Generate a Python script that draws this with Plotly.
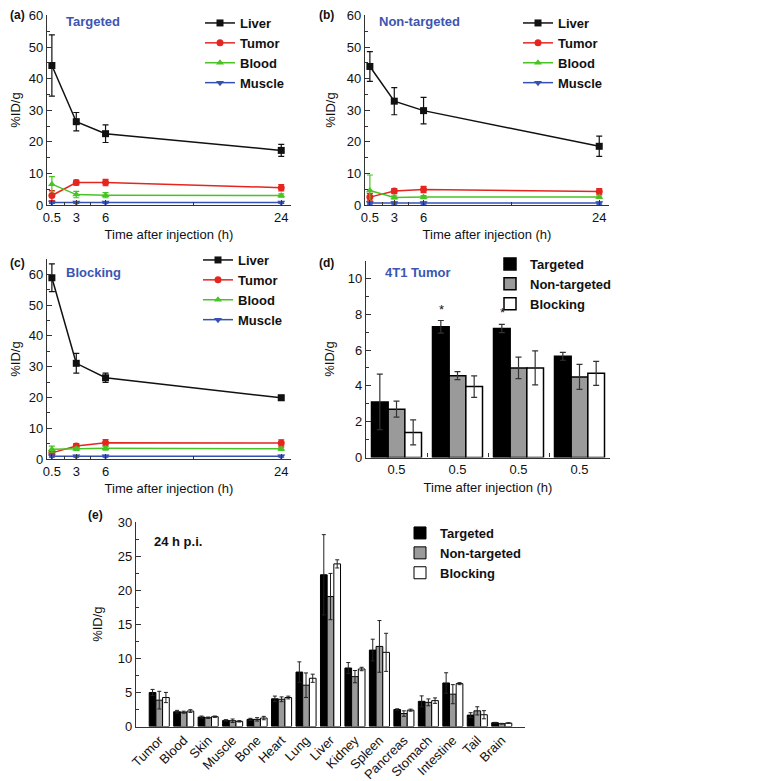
import plotly.graph_objects as go

# ---- data -------------------------------------------------------------
TIME_H = [0.5, 3, 6, 24]
LINE_ORGANS = ["Liver", "Tumor", "Blood", "Muscle"]

# rows follow LINE_ORGANS
targeted_mean = [[44.2, 26.4, 22.6, 17.3],
                 [3.0, 7.1, 7.1, 5.5],
                 [6.6, 3.3, 3.1, 3.0],
                 [0.8, 0.8, 0.8, 0.8]]
targeted_err = [[9.7, 2.9, 2.8, 1.9],
                [1.6, 0.8, 1.0, 1.0],
                [2.4, 1.0, 0.8, 0.5],
                [0.3, 0.3, 0.3, 0.3]]

nontargeted_mean = [[43.9, 32.9, 29.9, 18.6],
                    [2.5, 4.4, 4.9, 4.3],
                    [4.6, 2.4, 2.5, 2.5],
                    [0.6, 0.6, 0.6, 0.6]]
nontargeted_err = [[4.7, 4.3, 4.2, 3.2],
                   [1.2, 0.8, 1.0, 0.9],
                   [4.9, 0.5, 0.5, 0.4],
                   [0.3, 0.3, 0.3, 0.3]]

blocking_mean = [[58.9, 31.1, 26.4, 19.9],
                 [2.0, 4.2, 5.3, 5.2],
                 [3.2, 3.3, 3.5, 3.3],
                 [0.9, 0.9, 0.9, 0.9]]
blocking_err = [[4.5, 3.2, 1.5, 0.8],
                [0.8, 0.8, 1.0, 1.0],
                [1.0, 0.5, 0.6, 0.5],
                [0.3, 0.3, 0.3, 0.3]]

GROUPS = ["Targeted", "Non-targeted", "Blocking"]

# (d) 4T1 tumor uptake (tick labels as printed in the figure)
tumor_time_labels = ["0.5", "0.5", "0.5", "0.5"]
tumor_mean = [[3.1, 7.3, 7.2, 5.65],
              [2.7, 4.57, 5.0, 4.5],
              [1.4, 3.96, 5.0, 4.7]]
tumor_err = [[1.55, 0.35, 0.23, 0.22],
             [0.45, 0.22, 0.6, 0.7],
             [0.7, 0.6, 0.95, 0.67]]
significant_idx = [1, 2]

# (e) biodistribution at 24 h p.i.
BIO_ORGANS = ["Tumor", "Blood", "Skin", "Muscle", "Bone", "Heart", "Lung",
              "Liver", "Kidney", "Spleen", "Pancreas", "Stomach",
              "Intestine", "Tail", "Brain"]
bio_targeted = [5.0, 2.17, 1.39, 0.9, 1.05, 4.07, 8.0, 22.3, 8.6, 11.23,
                2.5, 3.7, 6.4, 1.68, 0.56]
bio_targeted_err = [0.45, 0.2, 0.15, 0.1, 0.15, 0.4, 1.5, 5.9, 0.8, 1.6,
                    0.1, 0.8, 1.5, 0.35, 0.05]
bio_nontargeted = [3.87, 2.1, 1.29, 0.85, 1.05, 4.0, 6.07, 19.1, 7.33, 11.77,
                   1.9, 3.55, 4.75, 2.3, 0.41]
bio_nontargeted_err = [1.3, 0.15, 0.1, 0.25, 0.25, 0.35, 1.8, 3.4, 0.9, 3.8,
                       0.4, 0.5, 1.4, 0.6, 0.05]
bio_blocking = [4.26, 2.27, 1.44, 0.76, 1.24, 4.26, 7.09, 23.9, 8.45, 10.9,
                2.4, 3.8, 6.3, 1.73, 0.5]
bio_blocking_err = [0.75, 0.2, 0.1, 0.1, 0.25, 0.2, 0.6, 0.6, 0.25, 2.8,
                    0.15, 0.4, 0.15, 0.6, 0.05]

# ---- styling ----------------------------------------------------------
# the page body keeps the browser's 8px margin, so the figure is drawn
# 8px in and sized to end at the window edge; positions below are
# window pixels
OFF = 8
W, H = 764 - OFF, 781 - OFF
FONT = "Liberation Sans, Arial, sans-serif"
AXIS_COLOR = "#333333"
TITLE_BLUE = "#3b55b3"
LINE_COLORS = ["#111111", "#e5261f", "#47c423", "#3651b5"]
LINE_SYMBOLS = ["square", "circle", "triangle-up", "triangle-down"]
BAR_COLORS = ["#000000", "#9a9a9a", "#ffffff"]


def px(x):
    return (x - OFF) / W


def py(y):
    return 1 - (y - OFF) / H


def xd(left, right):
    return [px(left), px(right)]


def yd(top, bottom):
    return [py(bottom), py(top)]


def axis(**kw):
    base = dict(showline=True, linecolor=AXIS_COLOR, linewidth=1.2,
                ticks="inside", ticklen=5, tickcolor=AXIS_COLOR,
                tickfont=dict(family=FONT, size=13, color="#111111"),
                ticklabeloverflow="allow",
                showgrid=False, zeroline=False, fixedrange=True)
    base.update(kw)
    return base


def title(text, standoff):
    return dict(text=text, font=dict(family=FONT, size=13, color="#111111"),
                standoff=standoff)


fig = go.Figure()


def add_line_panel(means, errs, xa, ya, legend):
    for name, m, e, color, sym in zip(LINE_ORGANS, means, errs,
                                      LINE_COLORS, LINE_SYMBOLS):
        fig.add_trace(go.Scatter(
            x=TIME_H, y=m, name=name, mode="lines+markers",
            error_y=dict(type="data", array=e, color=color,
                         thickness=1.2, width=3),
            line=dict(color=color, width=1.5),
            marker=dict(symbol=sym, size=7, color=color),
            xaxis=xa, yaxis=ya, legend=legend))


add_line_panel(targeted_mean, targeted_err, "x", "y", "legend")
add_line_panel(nontargeted_mean, nontargeted_err, "x2", "y2", "legend2")
add_line_panel(blocking_mean, blocking_err, "x3", "y3", "legend3")

# (d) bars
for name, m, e, color in zip(GROUPS, tumor_mean, tumor_err, BAR_COLORS):
    fig.add_trace(go.Bar(
        x=list(range(len(tumor_time_labels))), y=m, name=name,
        marker=dict(color=color, line=dict(color="#000000", width=1.5)),
        error_y=dict(type="data", array=e, color="#333333",
                     thickness=1.2, width=3),
        xaxis="x4", yaxis="y4", legend="legend4"))

# (e) bars
for name, m, e, color in zip(GROUPS,
                             [bio_targeted, bio_nontargeted, bio_blocking],
                             [bio_targeted_err, bio_nontargeted_err,
                              bio_blocking_err],
                             BAR_COLORS):
    fig.add_trace(go.Bar(
        x=BIO_ORGANS, y=m, name=name,
        marker=dict(color=color, line=dict(color="#000000", width=1)),
        error_y=dict(type="data", array=e, color="#222222",
                     thickness=1, width=2),
        xaxis="x5", yaxis="y5", legend="legend5"))

time_minor = dict(tickvals=[1.75, 4.5, 15], ticks="inside", ticklen=3,
                  tickcolor=AXIS_COLOR)

layout = dict(
    width=W, height=H,
    # legends must not push the margins, the domains are set by hand
    margin=dict(l=0, r=0, t=0, b=0, autoexpand=False),
    paper_bgcolor="white", plot_bgcolor="white",
    barmode="group", bargap=0.18, bargroupgap=0,
    font=dict(family=FONT, size=13, color="#111111"),
    xaxis=axis(domain=xd(47, 291), range=[0, 25], anchor="y",
               tickvals=TIME_H, minor=time_minor,
               title=title("Time after injection (h)", 6)),
    yaxis=axis(domain=yd(15, 205), range=[0, 60.2], anchor="x", dtick=10,
               minor=dict(dtick=5, ticks="inside", ticklen=3),
               title=title("%ID/g", 8)),
    xaxis2=axis(domain=xd(365, 609), range=[0, 25], anchor="y2",
                tickvals=TIME_H, minor=time_minor,
                title=title("Time after injection (h)", 6)),
    yaxis2=axis(domain=yd(15, 205), range=[0, 60.2], anchor="x2", dtick=10,
                minor=dict(dtick=5, ticks="inside", ticklen=3),
                title=title("%ID/g", 8)),
    xaxis3=axis(domain=xd(47, 291), range=[0, 25], anchor="y3",
                tickvals=TIME_H, minor=time_minor,
                title=title("Time after injection (h)", 6)),
    yaxis3=axis(domain=yd(259, 459), range=[0, 65], anchor="x3", dtick=10,
                minor=dict(dtick=5, ticks="inside", ticklen=3),
                title=title("%ID/g", 8)),
    xaxis4=axis(domain=xd(366, 610), range=[-0.5, 3.5], anchor="y4",
                tickvals=list(range(len(tumor_time_labels))),
                ticktext=tumor_time_labels, ticks="",
                minor=dict(tickvals=[0.5, 1.5, 2.5], ticks="inside",
                           ticklen=4, tickcolor=AXIS_COLOR),
                title=title("Time after injection (h)", 6)),
    yaxis4=axis(domain=yd(260.5, 457.5), range=[0, 11], anchor="x4",
                dtick=2, minor=dict(dtick=1, ticks="inside", ticklen=3),
                title=title("%ID/g", 10)),
    xaxis5=axis(domain=xd(136, 525), range=[-0.95, 14.95], anchor="y5",
                type="category", ticks="", tickangle=-45,
                tickfont=dict(family=FONT, size=13, color="#111111")),
    yaxis5=axis(domain=yd(521.7, 726.5), range=[0, 30.1], anchor="x5",
                dtick=5, minor=dict(dtick=2.5, ticks="inside", ticklen=3),
                title=title("%ID/g", 12)),
)


def legend_at(left, y, anchor="middle"):
    return dict(x=px(left), y=py(y), xanchor="left", yanchor=anchor,
                bgcolor="rgba(0,0,0,0)", borderwidth=0, itemwidth=30,
                font=dict(family=FONT, size=13, color="#111111",
                          weight="bold"),
                traceorder="normal")


layout["legend"] = legend_at(200, OFF, "top")
layout["legend2"] = legend_at(518, OFF, "top")
layout["legend3"] = legend_at(198, 290)
layout["legend4"] = legend_at(490, 284)
layout["legend5"] = legend_at(400, 553)

fig.update_layout(**layout)

# panel letters and in-panel titles
panel_labels = [("(a)", 17, 15), ("(b)", 326, 15), ("(c)", 17, 263),
                ("(d)", 326, 263), ("(e)", 95, 515)]
for text, lx, ly in panel_labels:
    fig.add_annotation(text=text, x=px(lx), y=py(ly), xref="paper",
                       yref="paper", showarrow=False, xanchor="center",
                       yanchor="middle",
                       font=dict(family=FONT, size=12, color="#111111",
                                 weight="bold"))

panel_titles = [("Targeted", 64, 21, TITLE_BLUE),
                ("Non-targeted", 377, 21, TITLE_BLUE),
                ("Blocking", 64, 272, TITLE_BLUE),
                ("4T1 Tumor", 383, 272, TITLE_BLUE),
                ("24 h p.i.", 152, 541, "#111111")]
for text, lx, ly, color in panel_titles:
    fig.add_annotation(text=text, x=px(lx), y=py(ly), xref="paper",
                       yref="paper", showarrow=False, xanchor="left",
                       yanchor="middle",
                       font=dict(family=FONT, size=13, color=color,
                                 weight="bold"))

# significance marks over targeted bars
for i in significant_idx:
    fig.add_annotation(text="*", x=i, xref="x4",
                       y=tumor_mean[0][i] + tumor_err[0][i], yref="y4",
                       xshift=-16.5, yshift=2, showarrow=False,
                       yanchor="bottom",
                       font=dict(family=FONT, size=13, color="#111111"))

fig.write_html("out.html")
